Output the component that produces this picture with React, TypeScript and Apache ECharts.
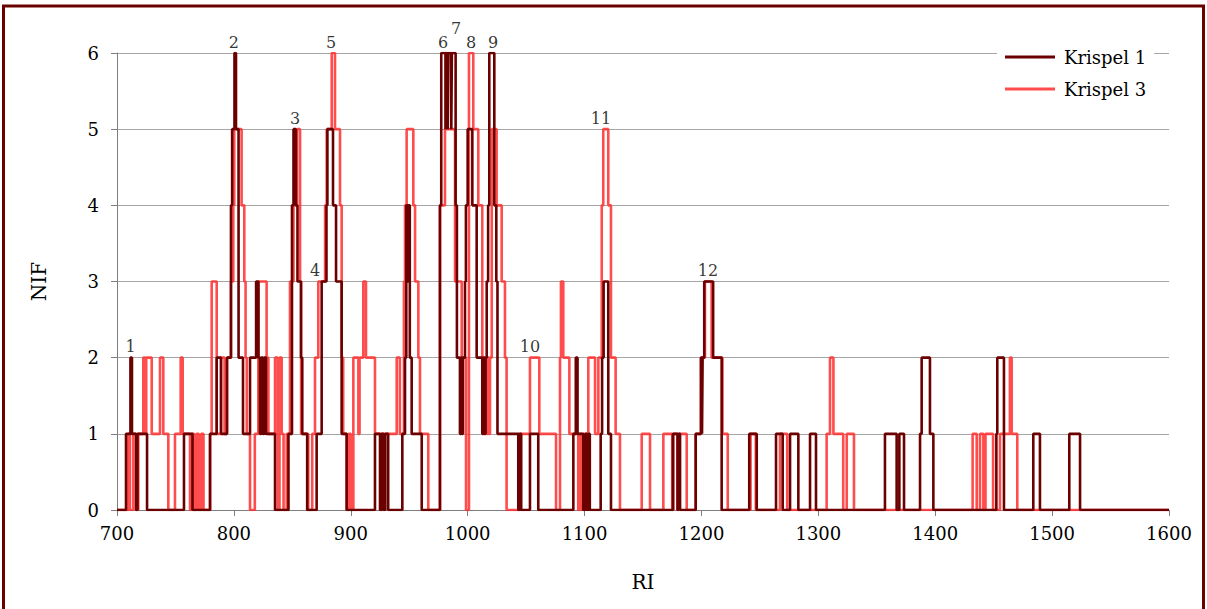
import React, { useEffect, useRef } from "react";
import * as echarts from "echarts";

// Step profiles: [RI, NIF] — NIF holds from this RI until the next breakpoint.
const krispel1: [number, number][] = [
  [700, 0], [707.7, 1], [711.5, 2], [712.8, 1], [716.3, 0], [717.5, 1], [725.7, 0], [757.3, 1], [764.6, 0],
  [779.6, 1], [785.3, 2], [789, 1], [794.1, 2], [797.5, 4], [798.5, 5], [800.5, 6], [801.8, 5], [804, 2],
  [807.8, 1], [813.8, 2], [819, 3], [821, 2], [822.3, 1], [823.2, 2], [824.9, 1], [825.8, 2], [827.5, 1], [835.2, 0],
  [846.7, 1], [849.7, 4], [851, 5], [853.1, 4], [854.4, 3], [857.4, 2], [858.5, 1], [862.7, 0], [870.8, 1],
  [875.1, 3], [879.2, 4], [880, 5], [884.8, 4], [887.4, 3], [892.2, 1], [896.5, 0],
  [920.7, 1], [925, 0], [926.4, 1], [928, 0], [929.5, 1], [932, 0],
  [944.1, 1], [946.4, 2], [947.5, 4], [948.5, 3], [949.3, 4], [950.5, 2], [952.1, 1], [960.7, 0],
  [976.3, 4], [977.4, 6], [981, 5], [981.5, 6], [983, 5], [983.6, 6], [986, 5], [986.5, 6], [989.7, 4], [990.8, 2],
  [993.4, 1], [994.3, 2], [995.2, 1], [996, 2], [997.7, 3], [998.5, 4], [1000, 5], [1004, 4], [1007.7, 2],
  [1012.5, 1], [1013.3, 2], [1014.3, 1], [1015.3, 2], [1016.3, 3], [1017.5, 4], [1018.5, 6], [1022.8, 4],
  [1024.5, 3], [1025.5, 1],
  [1043.3, 0], [1044.5, 1], [1045.8, 0], [1053.3, 1], [1060.4, 0],
  [1090.4, 1], [1092.5, 2], [1094, 1], [1098.9, 0], [1100.8, 1], [1102, 0], [1103.4, 1], [1104.5, 0],
  [1113.8, 1], [1115, 2], [1116.3, 3], [1120.3, 1], [1122.6, 0],
  [1175.6, 1], [1179.5, 0], [1180.2, 1], [1181.7, 0],
  [1195.1, 1], [1199.6, 2], [1200.5, 1], [1201, 2], [1202.4, 3], [1210, 2], [1217.3, 0],
  [1240.9, 1], [1247.3, 0], [1263.8, 1], [1269.5, 0], [1275.8, 1], [1282.9, 0], [1292.9, 1], [1298, 0],
  [1357, 1], [1367, 0], [1369.3, 1], [1373.3, 0], [1387, 1], [1388.4, 2], [1395.5, 1], [1398.4, 0],
  [1452.3, 1], [1453.1, 2], [1458.8, 0], [1483.9, 1], [1489.6, 0], [1514.7, 1], [1523.9, 0], [1600, 0],
];

const krispel3: [number, number][] = [
  [700, 0], [709.7, 1], [711.1, 0], [714, 1], [716.5, 0], [718.2, 1], [722.5, 2], [724, 1], [725, 2], [729.7, 1],
  [736.8, 2], [739.6, 1], [743.9, 0], [749.6, 1], [754.5, 2], [756.2, 1], [762.5, 0], [764, 1], [766, 0], [768, 1],
  [770, 0], [772, 1], [774, 0], [779.6, 1], [781, 3], [785.3, 1], [789, 2], [792, 1], [794.1, 2], [797.5, 3],
  [799.5, 4], [800.3, 5], [806.6, 4], [808.9, 3], [810, 2], [811, 1], [813.8, 0], [817.9, 1], [820.9, 3], [828, 2],
  [829.5, 1], [835.2, 2], [837.5, 0], [839, 2], [840.9, 1], [842.5, 0], [845.2, 1], [848, 3], [851, 4], [854, 5],
  [856.6, 3], [857.5, 1], [863.6, 0], [867, 1], [869.4, 2], [872.2, 3], [878, 4], [879.4, 5], [883.7, 6], [886.5, 5],
  [890.8, 4], [892.2, 2], [893.5, 1], [896.5, 0], [898, 1], [900, 0], [902.2, 2], [906.5, 1], [907.5, 2], [910.7, 3],
  [913, 2], [920.7, 1], [939.3, 2], [942, 1], [945.5, 3], [946.4, 4], [947.8, 5], [953.5, 4], [955, 3], [957.8, 2],
  [959.2, 1], [966.3, 0], [976.3, 4], [980.6, 5], [989.2, 3], [994.9, 2], [998.6, 0], [1001.1, 6], [1004.8, 5],
  [1009.1, 4], [1012.5, 2], [1016.3, 1], [1017.5, 2], [1018.3, 1], [1019.1, 2], [1020.6, 5], [1024.8, 4], [1029.1, 3],
  [1031.9, 2], [1033.3, 0], [1043.3, 1], [1053.3, 2], [1061.3, 1], [1075.6, 0], [1079, 2], [1079.8, 3], [1081.8, 2],
  [1087, 1], [1094.6, 0], [1096, 1], [1097.5, 0], [1098.9, 1], [1103.2, 2], [1109, 1], [1111.8, 2], [1114.7, 4],
  [1116, 5], [1120.3, 4], [1122.6, 2], [1126.6, 1], [1130.3, 0], [1148.9, 1], [1156, 0], [1167.4, 1], [1175, 0],
  [1176, 1], [1179.7, 0], [1181, 1], [1187.4, 0], [1195.1, 1], [1199.6, 2], [1203, 3], [1208.7, 2], [1218, 1],
  [1222.5, 0], [1242, 1], [1246.5, 0], [1267.2, 1], [1273.4, 0], [1307.1, 1], [1310, 2], [1312.9, 1], [1321.3, 0],
  [1324.3, 1], [1330.5, 0], [1432, 1], [1435.5, 0], [1438.3, 1], [1441.2, 0], [1443, 1], [1449.5, 0], [1455.4, 1],
  [1463.9, 2], [1465.4, 1], [1470.2, 0], [1600, 0],
];

// Numbered peaks: [label, RI, NIF at which the label sits]
const peakLabels: [string, number, number][] = [
  ["1", 711.7, 2], ["2", 800, 6], ["3", 852.3, 5], ["4", 869.4, 3], ["5", 883.1, 6], ["6", 978.9, 6],
  ["7", 990, 6.18], ["8", 1002.9, 6], ["9", 1021.7, 6], ["10", 1053.3, 2], ["11", 1114, 5], ["12", 1205.6, 3],
];

const seriesNames = ["Krispel 1", "Krispel 3"];
const xTicks = { min: 700, max: 1600, interval: 100 };
const yTicks = { min: 0, max: 6, interval: 1 };

const FONT = "DejaVu Serif";
const DARK = "#6a0000";
const RED = "rgba(255, 45, 45, 0.85)";

export default function App() {
  const ref = useRef<HTMLDivElement>(null);

  useEffect(() => {
    if (!ref.current) return;
    const chart = echarts.init(ref.current, undefined, { renderer: "svg" });
    chart.setOption({
      animation: false,
      backgroundColor: "#ffffff",
      textStyle: { fontFamily: FONT, color: "#000" },
      grid: { left: 117, right: 38, top: 53, bottom: 99 },
      graphic: [
        {
          type: "rect",
          shape: { x: 3.5, y: 6, width: 1200, height: 700 },
          style: { fill: "none", stroke: DARK, lineWidth: 3 },
          silent: true,
        },
      ],
      legend: {
        orient: "vertical",
        left: 997,
        top: 40,
        padding: [6, 8, 6, 8],
        backgroundColor: "#ffffff",
        itemWidth: 50,
        itemHeight: 3,
        itemGap: 10,
        icon: "rect",
        data: seriesNames,
        textStyle: { fontFamily: FONT, fontSize: 18, color: "#000", lineHeight: 22, padding: [0, 0, 0, 4] },
      },
      xAxis: {
        type: "value",
        min: xTicks.min,
        max: xTicks.max,
        interval: xTicks.interval,
        name: "RI",
        nameLocation: "middle",
        nameGap: 62,
        nameTextStyle: { fontFamily: FONT, fontSize: 20, color: "#000" },
        axisLine: { show: true, lineStyle: { color: "#7f7f7f", width: 1 } },
        axisTick: { show: true, length: 6, lineStyle: { color: "#7f7f7f" } },
        axisLabel: {
          fontFamily: FONT,
          fontSize: 18,
          color: "#000",
          margin: 14,
          formatter: (v: number) => String(v),
        },
        splitLine: { show: false },
      },
      yAxis: {
        type: "value",
        min: yTicks.min,
        max: yTicks.max,
        interval: yTicks.interval,
        name: "NIF",
        nameLocation: "middle",
        nameGap: 68,
        nameTextStyle: { fontFamily: FONT, fontSize: 20, color: "#000" },
        axisLine: { show: true, lineStyle: { color: "#7f7f7f", width: 1 } },
        axisTick: { show: true, length: 6, lineStyle: { color: "#7f7f7f" } },
        axisLabel: { fontFamily: FONT, fontSize: 18, color: "#000", margin: 18 },
        splitLine: { show: true, lineStyle: { color: "#a6a6a6", width: 1 } },
      },
      series: [
        {
          name: seriesNames[1],
          type: "line",
          step: "end",
          data: krispel3,
          showSymbol: false,
          symbol: "none",
          color: RED,
          lineStyle: { color: RED, width: 2.6 },
          z: 2,
        },
        {
          name: seriesNames[0],
          type: "line",
          step: "end",
          data: krispel1,
          showSymbol: false,
          symbol: "none",
          color: DARK,
          lineStyle: { color: DARK, width: 2.6 },
          z: 3,
        },
        {
          type: "scatter",
          data: peakLabels.map(([t, x, y]) => ({ value: [x, y], name: t })),
          symbolSize: 0,
          silent: true,
          clip: false,
          z: 5,
          labelLayout: { hideOverlap: false },
          label: {
            show: true,
            position: "top",
            distance: 3,
            formatter: (p: any) => p.name,
            fontFamily: FONT,
            fontSize: 16,
            color: "#000",
          },
        },
      ],
    });
    return () => chart.dispose();
  }, []);

  return (
    <div
      ref={ref}
      style={{ position: "fixed", left: 0, top: 0, width: 1207, height: 609 }}
    />
  );
}
